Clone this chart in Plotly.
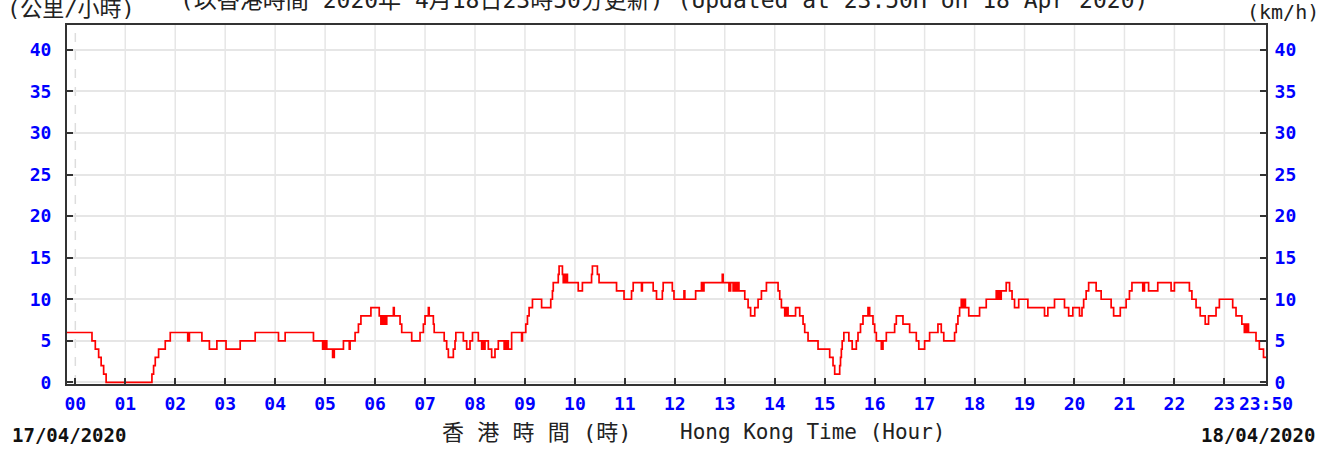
import plotly.graph_objects as go

# 10-minute mean wind speed, Hong Kong, 17/04/2020 23:50 - 18/04/2020 23:50
# Each entry: minutes after 00:00 where the reading changes, and the new speed (km/h)
change_minutes = [
    -10, 20, 24, 28, 31, 34, 37, 92, 94, 96, 100, 108, 114,
    135, 137, 152, 161, 170, 181, 198, 216, 244, 252, 286,
    297, 299, 300, 301, 302, 309, 311, 322, 329, 330, 336, 340, 343, 355,
    365, 367, 368, 369, 371, 372, 374, 382, 383, 390, 392, 404, 414, 418,
    420, 424, 425, 430, 431, 443, 446, 448, 454, 456, 457, 466, 470, 474,
    477, 484, 488, 490, 491, 492, 496, 500, 504, 508, 515, 516, 517, 519,
    520, 524, 536, 537, 541, 543, 545, 549, 560, 571, 573, 574, 580, 581,
    585, 586, 588, 589, 590, 591, 604, 609, 620, 621, 627, 629, 650, 659,
    668, 670, 680, 681, 694, 698, 705, 706, 717, 719, 731, 732, 745, 752,
    754, 755, 777, 778, 785, 787, 790, 792, 793, 795, 797, 804, 808, 811,
    816, 820, 824, 830, 844, 846, 848, 852, 854, 856, 865, 870, 874, 876,
    880, 892, 906, 910, 912, 918, 919, 920, 921, 923, 929, 933, 938, 940,
    943, 946, 952, 954, 958, 960, 962, 968, 970, 974, 984, 986, 994, 1002,
    1010, 1013, 1020, 1026, 1036, 1040, 1043, 1056, 1058, 1060, 1062, 1064,
    1066, 1067, 1069, 1073, 1086, 1094, 1106, 1108, 1109, 1111, 1112, 1118,
    1122, 1125, 1128, 1133, 1144, 1164, 1168, 1176, 1188, 1193, 1198, 1206,
    1209, 1211, 1214, 1217, 1226, 1232, 1244, 1247, 1255, 1262, 1266, 1269,
    1282, 1284, 1289, 1300, 1316, 1320, 1338, 1341, 1346, 1351, 1357, 1361,
    1370, 1374, 1390, 1394, 1401, 1404, 1405, 1406, 1408, 1409, 1418, 1422,
    1427, 1430,
]
speed_kmh = [
    6, 5, 4, 3, 2, 1, 0, 1, 2, 3, 4, 5, 6,
    5, 6, 5, 4, 5, 4, 5, 6, 5, 6, 5,
    4, 5, 4, 5, 4, 3, 4, 5, 4, 5, 6, 7, 8, 9,
    8, 7, 8, 7, 8, 7, 8, 9, 8, 7, 6, 5, 6, 7,
    8, 9, 8, 7, 6, 5, 4, 3, 4, 5, 6, 5, 4, 5,
    6, 5, 4, 5, 4, 5, 4, 3, 4, 5, 4, 5, 4, 5,
    4, 6, 5, 6, 7, 8, 9, 10, 9, 10, 11, 12, 13, 14,
    13, 12, 13, 12, 13, 12, 11, 12, 13, 14, 13, 12, 11, 10,
    11, 12, 11, 12, 11, 10, 11, 12, 11, 10, 11, 10, 11, 12,
    11, 12, 13, 12, 11, 12, 11, 12, 11, 12, 11, 10, 9, 8,
    9, 10, 11, 12, 11, 10, 9, 8, 9, 8, 9, 8, 7, 6,
    5, 4, 3, 2, 1, 2, 3, 4, 5, 6, 5, 4, 5, 6,
    7, 8, 9, 8, 7, 6, 5, 4, 5, 6, 7, 8, 7, 6,
    5, 4, 5, 6, 7, 6, 5, 6, 7, 8, 9, 10,
    9, 10, 9, 8, 9, 10, 11, 10, 11, 10, 11, 12,
    11, 10, 9, 10, 9, 8, 9, 10, 9, 8, 9, 8,
    9, 10, 11, 12, 11, 10, 9, 8, 9, 10, 11, 12,
    11, 12, 11, 12, 11, 12, 11, 10, 9, 8, 7, 8,
    9, 10, 9, 8, 7, 6, 7, 6, 7, 6, 5, 4,
    3, 3,
]

hour_ticks = list(range(0, 24))
hour_labels = [f"{h:02d}" for h in hour_ticks]
end_minute = 1430
end_label = "23:50"
speed_ticks = [0, 5, 10, 15, 20, 25, 30, 35, 40]
speed_range = [-0.2, 43]   # small floor so calm (0 km/h) readings sit just above the frame

start_date = "17/04/2020"
end_date = "18/04/2020"

MONO = "DejaVu Sans Mono, Noto Sans CJK TC"
BLUE = "#0000ff"
FRAME = "#333333"
GRID = "#e6e6e6"

fig = go.Figure()
fig.add_trace(go.Scatter(
    x=change_minutes, y=speed_kmh, mode="lines", line_shape="hv",
    line=dict(color="#ff0000", width=1.7), hoverinfo="x+y", showlegend=False,
))
# invisible copy so the right-hand speed axis is drawn
fig.add_trace(go.Scatter(
    x=change_minutes, y=speed_kmh, mode="lines", yaxis="y2",
    line=dict(color="rgba(0,0,0,0)", width=0), hoverinfo="skip", showlegend=False,
))

# hourly vertical grid; midnight drawn dashed
for h in hour_ticks:
    fig.add_shape(
        type="line", xref="x", yref="paper", x0=h * 60, x1=h * 60, y0=0, y1=1,
        layer="below",
        line=dict(color="#dddddd" if h == 0 else GRID, width=1.5,
                  dash="dash" if h == 0 else "solid"),
    )

tick_font = dict(family=MONO, size=18, color=BLUE, weight="bold")

fig.update_layout(
    width=1337, height=450,
    margin=dict(l=67, r=71, t=25, b=66),
    paper_bgcolor="white", plot_bgcolor="white",
    xaxis=dict(
        range=[-10, end_minute],
        tickvals=[h * 60 for h in hour_ticks] + [end_minute],
        ticktext=hour_labels + [end_label],
        ticks="inside", ticklen=6, tickwidth=1.5, tickcolor=FRAME,
        showline=True, linecolor=FRAME, linewidth=2, mirror=True,
        showgrid=False, zeroline=False,
        tickfont=tick_font, ticklabelstandoff=2,
    ),
    yaxis=dict(
        range=speed_range, tickvals=speed_ticks,
        ticks="inside", ticklen=6, tickwidth=1.5, tickcolor=FRAME,
        showline=True, linecolor=FRAME, linewidth=2,
        showgrid=True, gridcolor=GRID, gridwidth=1.5, zeroline=False,
        tickfont=tick_font, ticklabelstandoff=10,
    ),
    yaxis2=dict(
        range=speed_range, tickvals=speed_ticks, overlaying="y", side="right",
        ticks="inside", ticklen=6, tickwidth=1.5, tickcolor=FRAME,
        showline=True, linecolor=FRAME, linewidth=2,
        showgrid=False, zeroline=False,
        tickfont=tick_font, ticklabelstandoff=3,
    ),
)

fig.add_annotation(text="(公里/小時)", xref="paper", yref="paper",
                   x=-0.052, y=1.045, xanchor="left", yanchor="middle",
                   showarrow=False, font=dict(family=MONO, size=22, color="#222222"))
fig.add_annotation(text="(以香港時間 2020年 4月18日23時50分更新) (Updated at 23:50H on 18 Apr 2020)",
                   xref="paper", yref="paper", x=0.0926, y=1.07,
                   xanchor="left", yanchor="middle", showarrow=False,
                   font=dict(family=MONO, size=23, color="#222222"))
fig.add_annotation(text="(km/h)", xref="paper", yref="paper",
                   x=0.9825, y=1.036, xanchor="left", yanchor="middle",
                   showarrow=False, font=dict(family=MONO, size=20, color="#222222"))
fig.add_annotation(text="香 港 時 間 (時)", xref="paper", yref="paper",
                   x=(440 - 67) / 1199, y=-0.134, xanchor="left", yanchor="middle",
                   showarrow=False, font=dict(family=MONO, size=22, color="#222222"))
fig.add_annotation(text="Hong Kong Time (Hour)", xref="paper", yref="paper",
                   x=(678 - 67) / 1199, y=-0.134, xanchor="left", yanchor="middle",
                   showarrow=False, font=dict(family=MONO, size=21, color="#222222"))
fig.add_annotation(text=start_date, xref="paper", yref="paper",
                   x=-0.0475, y=-0.143, xanchor="left", yanchor="middle",
                   showarrow=False, font=dict(family=MONO, size=19, color="#111111", weight="bold"))
fig.add_annotation(text=end_date, xref="paper", yref="paper",
                   x=1.0425, y=-0.143, xanchor="right", yanchor="middle",
                   showarrow=False, font=dict(family=MONO, size=19, color="#111111", weight="bold"))

fig.write_html("out.html")
